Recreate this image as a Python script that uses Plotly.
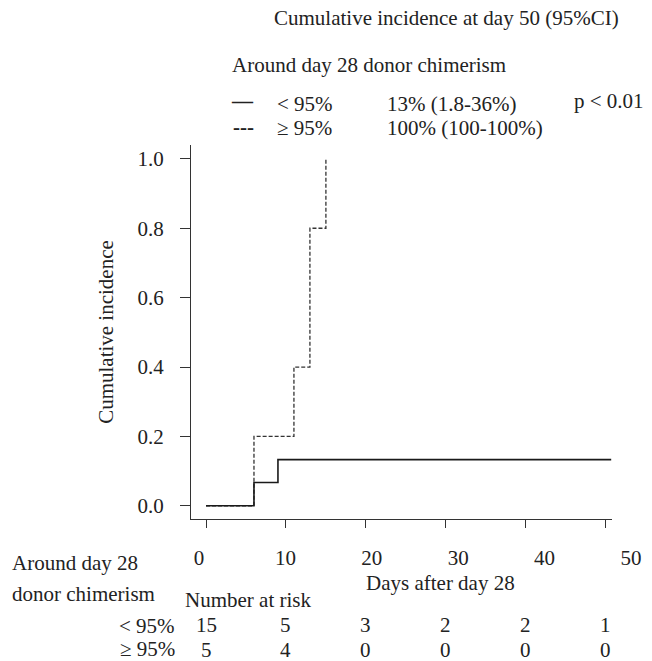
import plotly.graph_objects as go

W, H = 652, 661

# ---- data ----
low_times = [0, 6, 9, 50.7]
low_ci = [0.0, 0.067, 0.133, 0.133]
high_times = [0, 6, 11, 13, 15]
high_ci = [0.0, 0.2, 0.4, 0.8, 1.0]

x_ticks = [0, 10, 20, 30, 40, 50]
y_ticks = [0.0, 0.2, 0.4, 0.6, 0.8, 1.0]
risk_low = [15, 5, 3, 2, 2, 1]
risk_high = [5, 4, 0, 0, 0, 0]

group_labels = ["< 95%", "≥ 95%"]
ci_labels = ["13% (1.8-36%)", "100% (100-100%)"]
p_label = "p < 0.01"

FONT = "Times New Roman, Liberation Serif, serif"
FS = 21
TXT = "#222222"


def px(x):
    return x / W


def py(y):
    return 1 - y / H


fig = go.Figure()

fig.add_trace(go.Scatter(x=high_times, y=high_ci, mode="lines", line_shape="hv",
                         line=dict(color="#333333", width=1.3, dash="4px,2px"),
                         showlegend=False, hoverinfo="skip"))
fig.add_trace(go.Scatter(x=low_times, y=low_ci, mode="lines", line_shape="hv",
                         line=dict(color="#1a1a1a", width=1.6),
                         showlegend=False, hoverinfo="skip"))
# dummy trace to activate the label axis
fig.add_trace(go.Scatter(x=[None], y=[None], xaxis="x2", yaxis="y", mode="lines",
                         showlegend=False, hoverinfo="skip"))

ann = []


def text(s, x, y, xanchor="left", yanchor="middle", xref="paper"):
    ann.append(dict(text=s, x=x, y=py(y), xref=xref, yref="paper",
                    xanchor=xanchor, yanchor=yanchor, showarrow=False,
                    font=dict(family=FONT, size=FS, color=TXT)))


text("Cumulative incidence at day 50 (95%CI)", px(446), 18, xanchor="center")
text("Around day 28 donor chimerism", px(230), 65)
text("<b>—</b>", px(229), 101)
text("<b>---</b>", px(231), 127)
text(group_labels[0], px(275), 104)
text(group_labels[1], px(275), 128)
text(ci_labels[0], px(385), 104)
text(ci_labels[1], px(385), 128)
text(p_label, px(572), 101)

text("Around day 28", px(10), 563)
text("donor chimerism", px(10), 594)
text("Number at risk", px(183), 600)
text("Days after day 28", px(440), 583, xanchor="center")
text(group_labels[0], px(177), 626, xanchor="right")
text(group_labels[1], px(177), 649, xanchor="right")
for xv, a, b in zip(x_ticks, risk_low, risk_high):
    text(str(a), xv, 625, xanchor="center", xref="x")
    text(str(b), xv, 650, xanchor="center", xref="x")

X0, X1 = 191, 612
Y0, Y1 = 145, 519
xr = [-1.88, 50.8]
lab_x0, lab_scale = 199, 8.64
X2R = 645

fig.update_layout(
    width=W, height=H, autosize=False,
    margin=dict(l=0, r=0, t=0, b=0),
    paper_bgcolor="white", plot_bgcolor="rgba(0,0,0,0)",
    font=dict(family=FONT, size=FS, color=TXT),
    annotations=ann,
    xaxis=dict(domain=[px(X0), px(X1)], range=xr, tickvals=x_ticks,
               showticklabels=False, ticks="outside", ticklen=8, tickwidth=1.3,
               tickcolor="#333", showline=True, linecolor="#333", linewidth=1.3,
               showgrid=False, zeroline=False, anchor="y"),
    xaxis2=dict(domain=[px(X0), px(X2R)],
                range=[(X0 - lab_x0) / lab_scale, (X2R - lab_x0) / lab_scale],
                tickvals=x_ticks, ticktext=[str(v) for v in x_ticks],
                ticks="", showline=False, showgrid=False, zeroline=False,
                anchor="free", position=py(Y1), side="bottom",
                ticklabelstandoff=24,
                tickfont=dict(family=FONT, size=FS, color=TXT)),
    yaxis=dict(domain=[py(Y1), py(Y0)], range=[-0.038, 1.04], tickvals=y_ticks,
               ticktext=[f"{v:.1f}" for v in y_ticks],
               ticks="outside", ticklen=10, tickwidth=1.3, tickcolor="#333",
               showline=True, linecolor="#333", linewidth=1.3,
               showgrid=False, zeroline=False, ticklabelstandoff=12,
               title=dict(text="Cumulative incidence", standoff=18,
                          font=dict(family=FONT, size=FS, color=TXT)),
               tickfont=dict(family=FONT, size=FS, color=TXT)),
)

fig.write_html("out.html")
